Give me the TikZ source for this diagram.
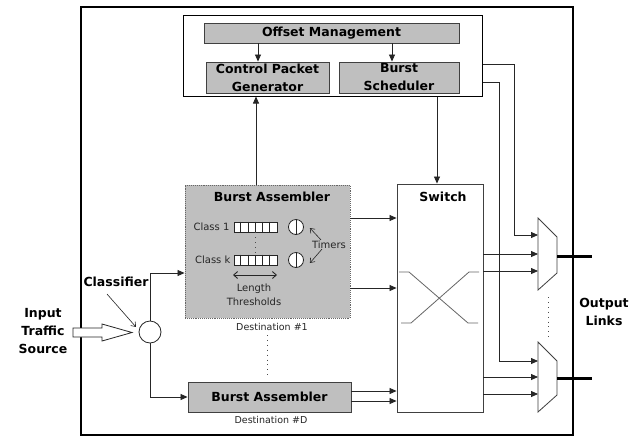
\documentclass[tikz,border=0pt]{standalone}
\usepackage{fontspec}
\setmainfont{DejaVu Sans}
\usetikzlibrary{arrows.meta,calc}
\begin{document}
\begin{tikzpicture}[x=1pt,y=-1pt,
  line/.style={draw=black!85, line width=0.8pt},
  arr/.style={line, -{Triangle[length=7pt,width=6pt]}},
  barb/.style={draw=black!85, line width=0.6pt, -{Straight Barb[length=4pt,width=6pt]}},
  block/.style={draw=black!75, fill=black!25, line width=0.9pt, inner sep=0pt,
    font=\bfseries\fontsize{12.5}{18}\selectfont, align=center},
  lbl/.style={font=\bfseries\fontsize{12.5}{18}\selectfont, align=center, inner sep=0pt},
  small/.style={font=\fontsize{10}{14}\selectfont, inner sep=0pt, text=black!85, align=center},
  tiny/.style={font=\fontsize{9.5}{12}\selectfont, inner sep=0pt, text=black!85},
  queue/.style={draw=black!85, fill=white, line width=0.8pt, minimum width=43pt,
    minimum height=10pt, inner sep=0pt},
  timer/.style={circle, draw=black!85, fill=white, line width=0.8pt, minimum size=15pt, inner sep=0pt},
  dots/.style={draw=black!70, line width=0.9pt, dash pattern=on 0.9pt off 4pt},
  xline/.style={draw=black!60, line width=0.8pt},
]
\useasboundingbox (0,0) rectangle (639,437);
\fill[white] (0,0) rectangle (639,437);

% outer frame of the node
\draw[line width=1.6pt] (81,7) rectangle (573,435);

% control plane
\node[draw=black, line width=1pt, fill=white, minimum width=299pt, minimum height=81pt, inner sep=0pt] (ctrl) at (332.5,55.5) {};
\node[block, minimum width=255pt, minimum height=20pt] (om) at (331.5,33) {Offset Management};
\node[block, minimum width=123pt, minimum height=31pt] (cpg) at (267.5,77.5) {Control Packet\\Generator};
\node[block, minimum width=120pt, minimum height=31pt] (bs) at (399,77.5) {Burst\\Scheduler};
\draw[arr] (258,0 |- om.south) -- (258,0 |- cpg.north);
\draw[arr] (392,0 |- om.south) -- (392,0 |- bs.north);

% burst assembler for destination #1
\node[draw=black!60, densely dotted, fill=black!25, line width=0.9pt, minimum width=165pt,
  minimum height=133pt, inner sep=0pt] (ba1) at (267.5,251.5) {};
\node[lbl] (ba1t) at (272,197) {Burst Assembler};
\node[queue] (q1) at (255.5,227) {};
\node[queue] (qk) at (255.5,260) {};
\foreach \q in {q1,qk}{
  \foreach \i in {1,...,5}{
    \draw[black!85, line width=0.8pt] ($(\q.north west)+(\i*7.17,0)$) -- ($(\q.south west)+(\i*7.17,0)$);
  }
}
\node[small, anchor=east] (c1) at ([xshift=-4pt]q1.west) {Class 1};
\node[small, anchor=east] (ck) at ([xshift=-3pt]qk.west) {Class k};
\draw[dots] (q1.south) -- (qk.north);
\node[timer] (t1) at (296,227) {};
\node[timer] (tk) at (296,260) {};
\draw[black!85, line width=0.8pt] (t1.north) -- (t1.south);
\draw[black!85, line width=0.8pt] (tk.north) -- (tk.south);
\node[small] (tm) at (329,245) {Timers};
\draw[barb] ([xshift=-8pt,yshift=1pt]tm.north) -- ([xshift=6pt,yshift=-1pt]t1.east);
\draw[barb] ([xshift=-7pt]tm.south) -- ([xshift=6pt,yshift=-3pt]tk.east);
\coordinate (la) at (233,275);
\coordinate (lb) at (277,275);
\draw[draw=black!85, line width=0.9pt, {Straight Barb[length=4pt,width=7pt]}-{Straight Barb[length=4pt,width=7pt]}] (la) -- (lb);
\node[small] (lt) at (254,295) {Length\\Thresholds};
\node[tiny] (d1) at (272,327) {Destination \#1};

% burst assembler for destination #D
\draw[dots] (267,335) -- (267,378);
\node[block, minimum width=163pt, minimum height=30pt] (bad) at (269.5,397) {Burst Assembler};
\node[tiny] (dd) at (271,420) {Destination \#D};

% classifier and traffic input
\node[circle, draw=black!85, fill=white, line width=0.8pt, minimum size=22pt, inner sep=0pt] (cls) at (150,332) {};
\node[lbl] (clsl) at (116,282) {Classifier};
\draw[barb] ([xshift=-9pt,yshift=-7pt]clsl.south) -- ([xshift=-6pt,yshift=-3pt]cls.north west);
\node[lbl] (inp) at (43,331) {Input\\Traffic\\Source};
\draw[draw=black!85, fill=white, line width=0.8pt]
  (73,328) -- (102,328) -- (102,324) -- (132,332.5) -- (102,341) -- (102,337) -- (73,337) -- cycle;
\draw[arr] (cls.north) |- (ba1.west |- 0,273);
\draw[arr] (cls.south) |- (bad.west);

% switch
\node[draw=black!75, fill=white, line width=0.9pt, minimum width=86pt, minimum height=228pt, inner sep=0pt] (sw) at (440,298) {};
\node[lbl] (swl) at (443,197) {Switch};
\draw[xline] (399,272) -- (409,272) -- (468,323) -- (478,323);
\draw[xline] (401,323) -- (411,323) -- (469,272) -- (479,272);
\draw[arr] (ba1.east |- 0,218) -- (sw.west |- 0,218);
\draw[arr] (ba1.east |- 0,288) -- (sw.west |- 0,288);
\draw[arr] (bad.east |- 0,391) -- (sw.west |- 0,391);
\draw[arr] (bad.east |- 0,401) -- (sw.west |- 0,401);
\draw[arr] (256,0 |- ba1.north) -- (256,0 |- ctrl.south);
\draw[arr] (437,0 |- ctrl.south) -- (437,0 |- sw.north);

% output multiplexers
\draw[draw=black!75, fill=white, line width=0.8pt] (538,218) -- (557,237) -- (557,273) -- (538,290) -- cycle;
\draw[draw=black!75, fill=white, line width=0.8pt] (538,342) -- (557,361) -- (557,395) -- (538,412) -- cycle;
\coordinate (m1a) at (538,235);
\coordinate (m1b) at (538,254);
\coordinate (m1c) at (538,271);
\coordinate (m2a) at (538,361);
\coordinate (m2b) at (538,377);
\coordinate (m2c) at (538,394);
\coordinate (o1) at (557,256);
\coordinate (o2) at (557,378);
\coordinate (e1) at (592,256);
\coordinate (e2) at (592,378);
\draw[arr] (ctrl.east |- 0,64) -| (514,235) -- (m1a);
\draw[arr] (ctrl.east |- 0,82) -| (499,361) -- (m2a);
\draw[arr] (sw.east |- m1b) -- (m1b);
\draw[arr] (sw.east |- m1c) -- (m1c);
\draw[arr] (sw.east |- m2b) -- (m2b);
\draw[arr] (sw.east |- m2c) -- (m2c);
\draw[line width=3pt] (o1) -- (e1);
\draw[line width=3pt] (o2) -- (e2);
\draw[dots] (548,297) -- (548,338);
\node[lbl] (outl) at (604,312) {Output\\Links};
\end{tikzpicture}
\end{document}
